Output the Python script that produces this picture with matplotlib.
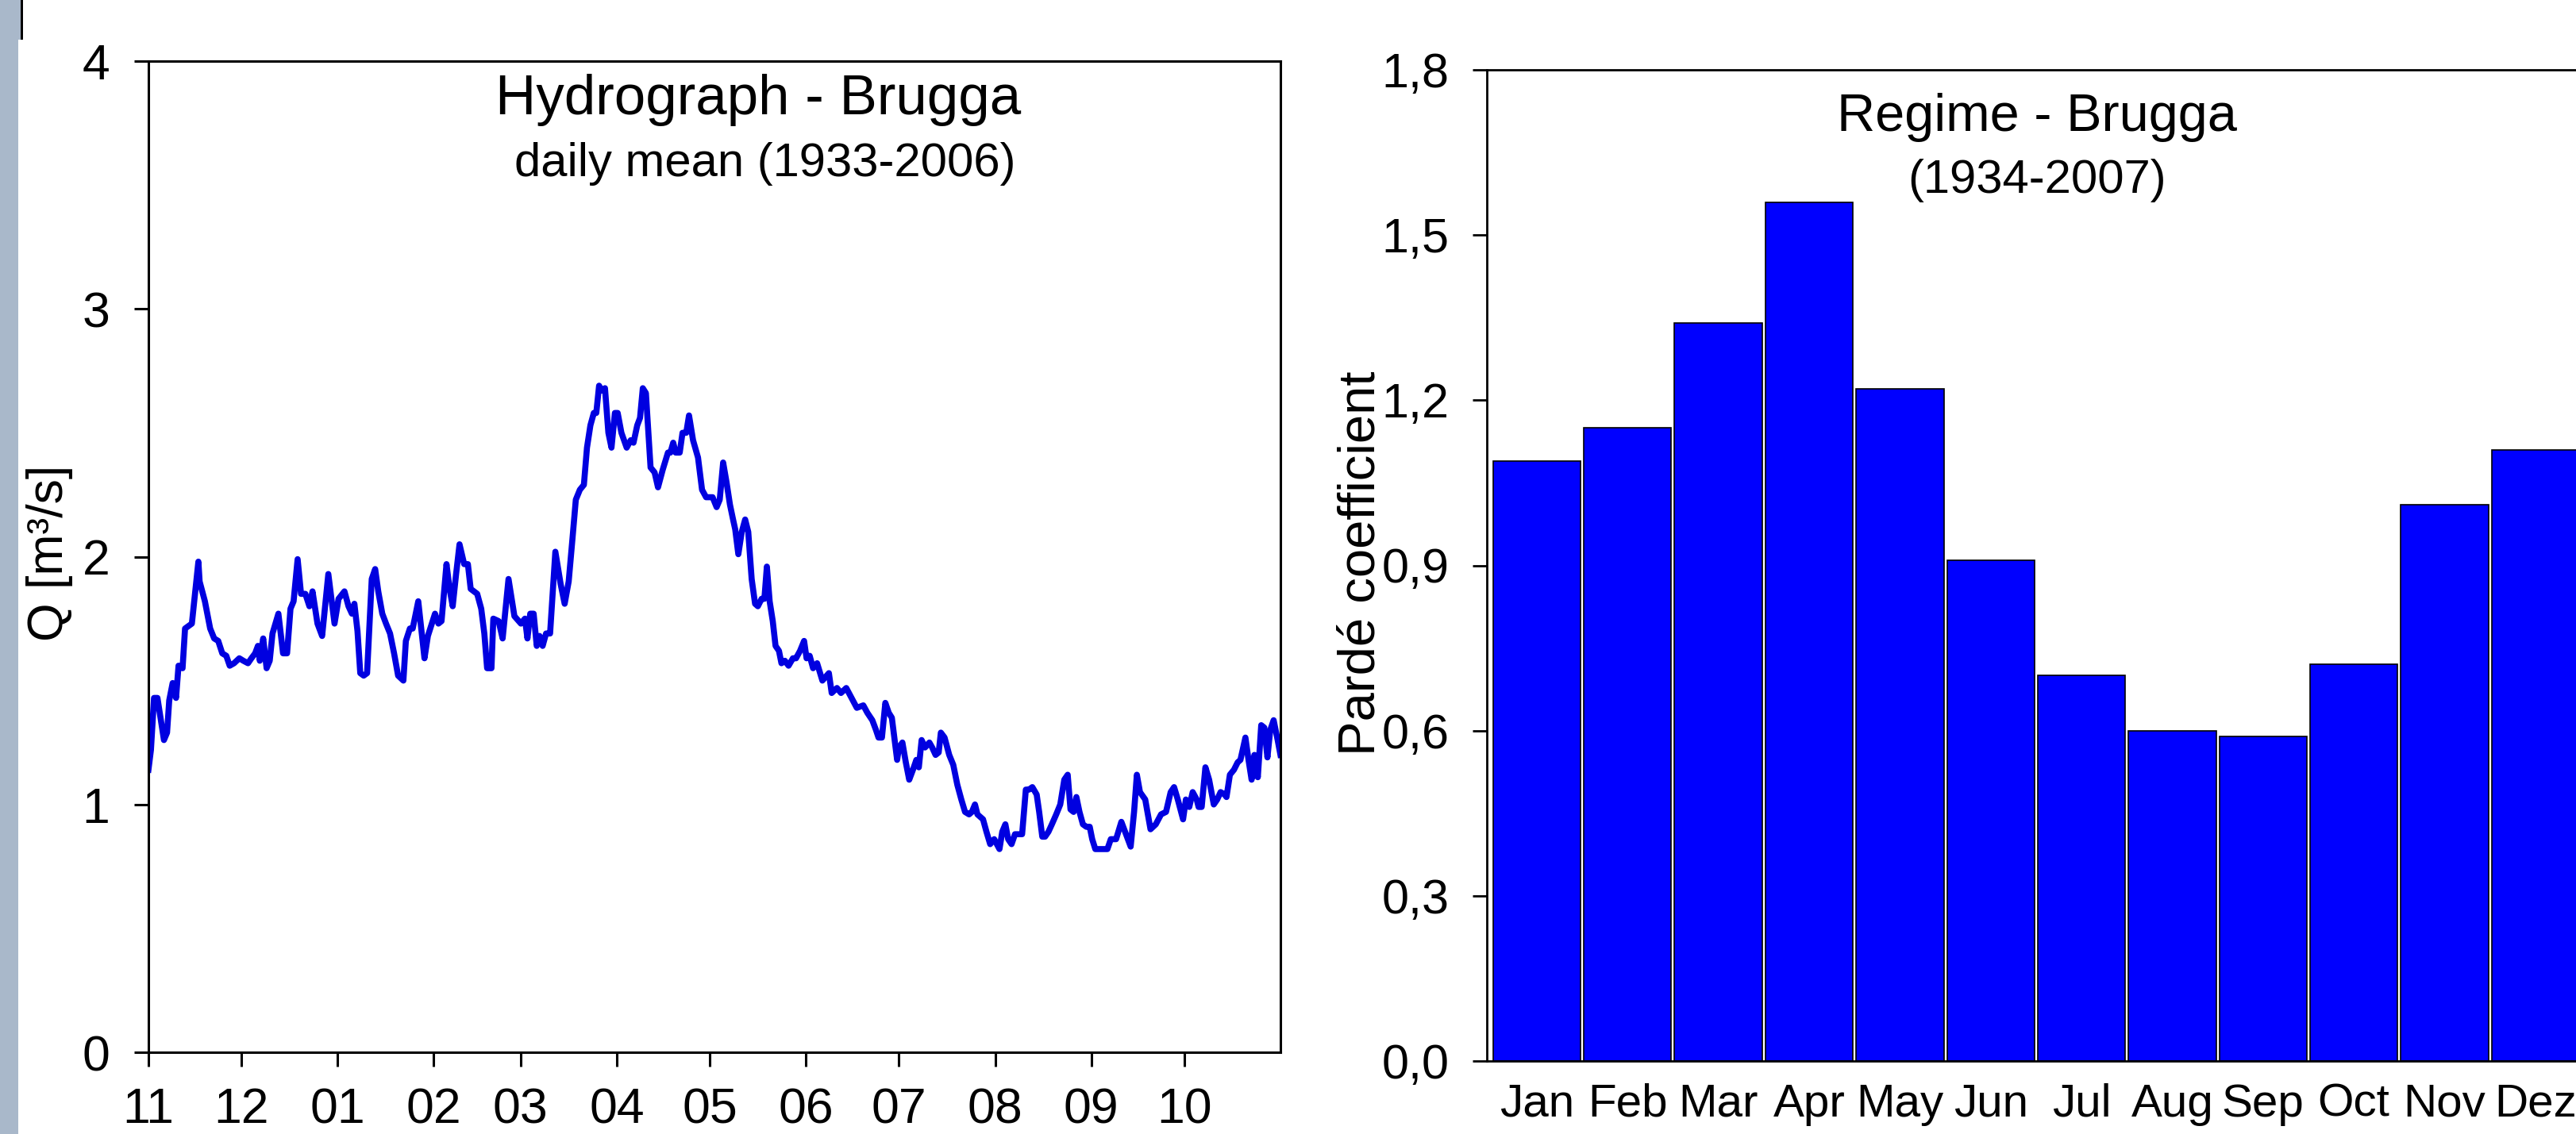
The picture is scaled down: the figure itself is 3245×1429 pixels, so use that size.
import matplotlib
matplotlib.use("Agg")
import matplotlib.pyplot as plt
from matplotlib.patches import Rectangle

plt.rcParams['font.family'] = ['Liberation Sans', 'DejaVu Sans']

# hydrograph: day of the hydrological year (0 = 1 Nov) and daily mean Q [m3/s]
day = [0, 0.8, 1.8, 2.9, 5.0, 6.0, 6.7, 7.8, 8.9, 9.7, 11.0, 11.8, 14.0, 16.1, 16.5,
       18.2, 19.9, 21.2, 22.5, 23.8, 25.1, 26.2, 27.6, 29.3, 30.6, 32.1, 33.2, 34.4,
       35.3, 35.9, 37.0, 38.1, 39.1, 40.0, 41.9, 43.4, 44.7, 45.8, 46.8, 48.1, 49.2,
       50.6, 51.9, 52.9, 54.5, 56.0, 58.0, 60.0, 61.3, 63.2, 64.5, 65.6, 66.4, 67.4,
       68.3, 69.4, 70.5, 72.0, 73.1, 74.1, 75.4, 76.6, 77.9, 79.2, 80.5, 82.2, 83.0,
       84.3, 85.2, 87.0, 89.0, 90.1,
       92.4, 93.5, 94.5, 96.1, 97.1, 98.1, 99.2, 100.3, 101.8, 103.0, 103.9, 106.0,
       107.3, 108.3, 109.2, 110.6, 111.2, 112.9, 114.2, 116.1, 118.0, 120.1, 121.4,
       122.2, 123.1, 124.2, 125.2, 126.1, 127.1, 128.2, 129.5, 131.2, 132.9, 134.2,
       135.5, 136.7, 137.8, 139.1, 140.4, 141.4, 142.5, 143.6, 144.4, 145.3, 146.1,
       147.2, 148.3, 149.3, 150.4, 151.3, 152.5, 154.2, 155.5, 156.4, 157.6, 158.5,
       159.4, 160.4, 161.9, 163.2, 164.3, 165.8, 167.5, 168.3, 169.2, 170.0, 171.3,
       172.2, 173.4, 174.3, 175.6, 177.2, 178.5, 179.8, 181.9, 183.2,
       184.2, 185.3, 186.4, 187.5, 188.5, 189.2, 190.2, 191.3, 192.4, 193.4, 194.5,
       195.6, 196.5, 197.7, 198.6, 199.4, 200.3, 201.3, 202.2, 203.3, 204.1, 205.2,
       206.4, 207.8, 208.8, 210.1, 211.4, 212.2, 213.2, 214.3, 215.6, 217.3, 219.4,
       220.3, 222.0, 223.3, 225.0, 226.7, 228.4, 230.5, 231.8, 233.4, 234.6, 235.4,
       236.5, 237.6, 238.7, 239.7, 240.4, 241.4, 242.0, 243.1, 244.2, 245.3, 246.5,
       247.6, 248.4, 249.3, 250.4, 251.8, 252.7, 253.8, 254.8, 255.5, 256.7, 258.2,
       259.5, 260.8, 262.1, 263.3, 264.6, 265.5, 266.5, 267.3, 269.1, 270.2, 271.4,
       272.7, 274.4,
       275.3, 276.3, 277.2, 278.3, 279.4, 280.6, 281.7, 282.9, 283.9, 285.0, 286.4,
       287.2, 288.2, 289.1, 290.2, 291.3, 292.7, 294.0, 295.3, 296.4, 297.3, 298.3,
       299.2, 300.2, 301.3, 302.4, 303.5, 304.3, 305.3, 306.8, 308.1, 309.2, 310.3,
       312.0, 313.7, 315.2, 316.7, 317.8, 318.7, 319.7, 321.4, 323.1, 324.8, 326.5,
       328.1, 329.6, 330.7, 331.9, 333.6, 334.5, 335.6, 336.7, 338.0, 338.6, 339.6,
       340.8, 342.0, 343.5, 344.6, 345.7, 347.0, 347.6, 348.7, 350.0, 351.2, 352.1,
       353.7, 354.7, 355.7, 356.6, 357.7, 358.8, 359.8, 360.8, 361.7, 362.8, 364.1,
       365.0]
q = [1.14, 1.22, 1.43, 1.43, 1.26, 1.29, 1.42, 1.49, 1.43, 1.56, 1.55, 1.71, 1.73, 1.98, 1.90,
     1.82, 1.71, 1.67, 1.66, 1.61, 1.60, 1.56, 1.57, 1.59, 1.58, 1.57, 1.59, 1.61,
     1.64, 1.58, 1.67, 1.55, 1.58, 1.69, 1.77, 1.61, 1.61, 1.79, 1.82, 1.99, 1.85,
     1.85, 1.80, 1.86, 1.73, 1.68, 1.93, 1.73, 1.83, 1.86, 1.80, 1.77, 1.81, 1.70,
     1.53, 1.52, 1.53, 1.91, 1.95, 1.86, 1.77, 1.73, 1.69, 1.61, 1.52, 1.50, 1.66,
     1.71, 1.71, 1.82, 1.59, 1.68,
     1.77, 1.73, 1.74, 1.97, 1.87, 1.80, 1.93, 2.05, 1.97, 1.97, 1.87, 1.85,
     1.79, 1.69, 1.55, 1.55, 1.75, 1.74, 1.67, 1.91, 1.76, 1.73, 1.75,
     1.67, 1.77, 1.77, 1.64, 1.68, 1.64, 1.69, 1.69, 2.02, 1.89, 1.81,
     1.90, 2.07, 2.23, 2.27, 2.29, 2.44, 2.53, 2.58, 2.58, 2.69, 2.67,
     2.68, 2.50, 2.44, 2.58, 2.58, 2.50, 2.44, 2.47, 2.46, 2.53, 2.56,
     2.68, 2.66, 2.36, 2.34, 2.28, 2.35, 2.42, 2.42, 2.46, 2.42, 2.42,
     2.50, 2.50, 2.57, 2.47, 2.40, 2.27, 2.24, 2.24, 2.20,
     2.23, 2.38, 2.30, 2.21, 2.15, 2.11, 2.01, 2.10, 2.15, 2.10, 1.91,
     1.81, 1.80, 1.83, 1.83, 1.96, 1.82, 1.74, 1.64, 1.62, 1.57, 1.58,
     1.56, 1.59, 1.59, 1.62, 1.66, 1.59, 1.60, 1.55, 1.57, 1.50, 1.53,
     1.45, 1.47, 1.45, 1.47, 1.43, 1.39, 1.40, 1.37, 1.34, 1.30, 1.27,
     1.27, 1.41, 1.37, 1.35, 1.28, 1.18, 1.23, 1.25, 1.17, 1.10, 1.14,
     1.18, 1.15, 1.26, 1.23, 1.25, 1.23, 1.20, 1.21, 1.29, 1.27, 1.20,
     1.16, 1.08, 1.02, 0.97, 0.96, 0.97, 1.00, 0.96, 0.94, 0.89, 0.84,
     0.86, 0.82,
     0.89, 0.92, 0.86, 0.84, 0.88, 0.88, 0.88, 1.06, 1.06, 1.07, 1.04,
     0.97, 0.87, 0.87, 0.89, 0.92, 0.96, 1.00, 1.10, 1.12, 0.98, 0.97,
     1.03, 0.97, 0.92, 0.91, 0.91, 0.86, 0.82, 0.82, 0.82, 0.82, 0.86,
     0.86, 0.93, 0.88, 0.83, 0.97, 1.12, 1.05, 1.02, 0.90, 0.92, 0.96,
     0.97, 1.05, 1.07, 1.02, 0.94, 1.02, 0.99, 1.05, 1.02, 0.99, 0.99,
     1.15, 1.10, 1.00, 1.02, 1.05, 1.04, 1.03, 1.12, 1.14, 1.17, 1.18,
     1.27, 1.18, 1.10, 1.20, 1.11, 1.32, 1.31, 1.19, 1.30, 1.34, 1.26,
     1.20]

month_days = [0, 30, 61, 92, 120, 151, 181, 212, 242, 273, 304, 334]
month_labels = ['11', '12', '01', '02', '03', '04', '05', '06', '07', '08', '09', '10']
q_ticks = [0, 1, 2, 3, 4]

# Pardé coefficients (monthly regime)
regime_months = ['Jan', 'Feb', 'Mar', 'Apr', 'May', 'Jun', 'Jul', 'Aug', 'Sep', 'Oct', 'Nov', 'Dez']
parde = [1.09, 1.15, 1.34, 1.56, 1.22, 0.91, 0.70, 0.60, 0.59, 0.72, 1.01, 1.11]
parde_ticks = [0.0, 0.3, 0.6, 0.9, 1.2, 1.5, 1.8]

W, H = 3245, 1429


def box(x0, y0, x1, y1):
    # pixel box (from top left) -> figure fraction rect
    return [x0 / W, 1 - y1 / H, (x1 - x0) / W, (y1 - y0) / H]


fig = plt.figure(figsize=(W / 100, H / 100), dpi=100)

# grey strip on the left edge
fig.patches.append(Rectangle((0, 0), 23 / W, 1, transform=fig.transFigure,
                             facecolor='#a9b8ca', edgecolor='none'))
fig.patches.append(Rectangle((0, 1 - 50 / H), 26 / W, 50 / H, transform=fig.transFigure,
                             facecolor='#a9b8ca', edgecolor='none'))
fig.patches.append(Rectangle((26 / W, 1 - 50 / H), 3 / W, 50 / H, transform=fig.transFigure,
                             facecolor='black', edgecolor='none'))

# ---- hydrograph
ax1 = fig.add_axes(box(187, 77, 1613, 1326))
ax1.plot(day, q, color='#0000e0', lw=5.5, solid_joinstyle='round')
ax1.set_xlim(0, 365)
ax1.set_ylim(0, 4)
ax1.set_xticks(month_days)
ax1.set_xticklabels(month_labels)
ax1.set_yticks(q_ticks)
for s in ax1.spines.values():
    s.set_linewidth(2.2)
ax1.tick_params(axis='both', direction='out', length=13, width=2.2, labelsize=45)
ax1.tick_params(axis='y', pad=22)
ax1.tick_params(axis='x', pad=18)
ax1.text(0.5386, 0.946, 'Hydrograph - Brugga', transform=ax1.transAxes,
         ha='center', va='baseline', fontsize=51)
ax1.text(0.545, 0.884, 'daily mean (1933-2006)', transform=ax1.transAxes,
         ha='center', va='baseline', fontsize=43)
fig.text(62 / W, 1 - 697 / H, 'Q [m³/s]', rotation=90, ha='center', va='center', fontsize=45)

# ---- regime
ax2 = fig.add_axes(box(1873, 88, 3251, 1337))
ax2.bar(range(len(parde)), parde, width=0.965, color='#0000ff', edgecolor='black', linewidth=1.2)
ax2.set_xlim(-0.55, 11.5)
ax2.set_ylim(0, 1.8)
ax2.set_xticks(range(len(regime_months)))
ax2.set_xticklabels(regime_months)
ax2.set_yticks(parde_ticks)
ax2.set_yticklabels([f"{v:.1f}".replace('.', ',') for v in parde_ticks])
ax2.spines['right'].set_visible(False)
for s in ['left', 'top', 'bottom']:
    ax2.spines[s].set_linewidth(2.0)
ax2.tick_params(axis='y', direction='out', length=13, width=2.0, labelsize=44, pad=21)
ax2.tick_params(axis='x', length=0, labelsize=42, pad=20)
ax2.text(0.503, 0.938, 'Regime - Brugga', transform=ax2.transAxes,
         ha='center', va='baseline', fontsize=48)
ax2.text(0.503, 0.876, '(1934-2007)', transform=ax2.transAxes,
         ha='center', va='baseline', fontsize=43)
fig.text(1714 / W, 1 - 710 / H, 'Pardé coefficient', rotation=90, ha='center', va='center',
         fontsize=47)

fig.savefig('out.png', dpi=100)
